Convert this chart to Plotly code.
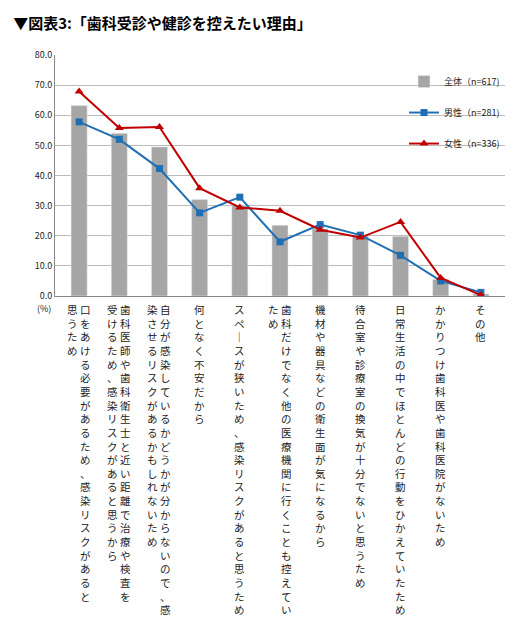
import plotly.graph_objects as go

labels = [
    "口をあける必要があるため、感染リスクがあると\n思うため",
    "歯科医師や歯科衛生士と近い距離で治療や検査を\n受けるため、感染リスクがあると思うから",
    "自分が感染しているかどうかが分からないので、感\n染させるリスクがあるかもしれないため",
    "何となく不安だから",
    "スペースが狭いため、感染リスクがあると思うため",
    "歯科だけでなく他の医療機関に行くことも控えてい\nため",
    "機材や器具などの衛生面が気になるから",
    "待合室や診療室の換気が十分でないと思うため",
    "日常生活の中でほとんどの行動をひかえていたため",
    "かかりつけ歯科医や歯科医院がないため",
    "その他",
]
total = [63.2, 54.0, 49.5, 32.0, 30.0, 23.5, 22.3, 20.0, 19.8, 5.5, 0.7]
male = [57.8, 52.0, 42.3, 27.6, 32.8, 18.0, 23.7, 20.2, 13.5, 5.0, 1.2]
female = [67.9, 55.8, 56.1, 35.8, 29.4, 28.3, 22.0, 19.4, 24.6, 6.0, 0.3]
names = ["全体（n=617)", "男性（n=281)", "女性（n=336)"]
yticks = [0, 10, 20, 30, 40, 50, 60, 70, 80]

x = list(range(len(labels)))
fig = go.Figure()
fig.add_bar(x=x, y=total, name=names[0], marker_color="#a6a6a6", width=0.4, legendgroup="a")
fig.add_scatter(x=x, y=male, name=names[1], mode="lines+markers", legendgroup="b",
                line=dict(color="#1f6fb5", width=2), marker=dict(symbol="square", size=7))
fig.add_scatter(x=x, y=female, name=names[2], mode="lines+markers", legendgroup="c",
                line=dict(color="#c00000", width=2), marker=dict(symbol="triangle-up", size=8))

font = "Noto Sans CJK JP"
for i, lab in enumerate(labels):
    cols = lab.split("\n")
    n = len(cols)
    for j, col in enumerate(cols):
        shift = ((n - 1) / 2 - j) * 13
        txt = "<br>".join(col.replace("ー", "｜"))
        fig.add_annotation(x=i, y=0, yref="y", xref="x", text=txt, showarrow=False,
                           xanchor="center", yanchor="top", yshift=-4, xshift=shift,
                           align="center", font=dict(size=10.5, family=font, color="#222"))
fig.add_annotation(x=0, xref="paper", xanchor="right", xshift=-2, y=0, yref="y", yanchor="top",
                   yshift=-4, text="(%)", showarrow=False, font=dict(size=9, family=font, color="#222"))

fig.update_layout(
    width=515, height=640, margin=dict(l=47, r=18, t=47, b=352, autoexpand=False),
    title=dict(text="<b>▼図表3:「歯科受診や健診を控えたい理由」</b>", x=0.01, xanchor="left",
               y=0.975, yanchor="middle", font=dict(size=15, family=font, color="#000")),
    paper_bgcolor="white", plot_bgcolor="white", bargap=0.6,
    font=dict(family=font, color="#222"),
    showlegend=True,
    legend=dict(x=1, xanchor="right", y=0.95, yanchor="top", bgcolor="rgba(0,0,0,0)",
                font=dict(size=9), tracegroupgap=12, itemwidth=30),
    xaxis=dict(tickvals=x, showticklabels=False, range=[-0.6, 10.6], showline=True,
               linecolor="#888", ticks=""),
    yaxis=dict(range=[0, 80], tickvals=yticks, tickformat=".1f", gridcolor="#bbbbbb",
               tickfont=dict(size=9), showline=True, linecolor="#888", zeroline=False),
)
fig.write_html("out.html")
